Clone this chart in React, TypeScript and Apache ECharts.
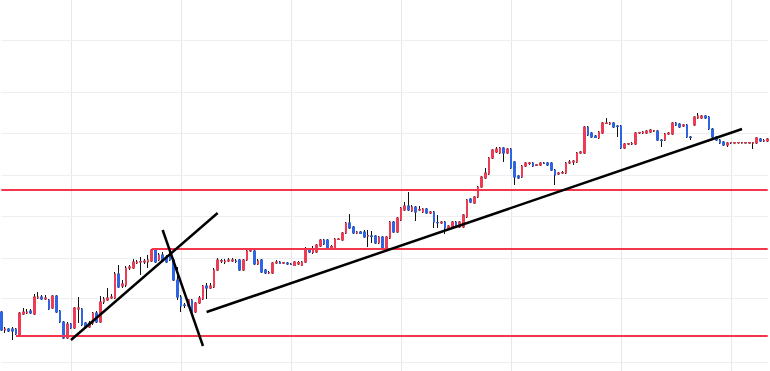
import React, { useEffect, useRef } from "react";
import * as echarts from "echarts";

// OHLC values (price units), one entry per session
const opens = [
  88, 70, 71, 71, 71, 65, 86, 87, 89, 86,
  102, 103, 101, 100, 92, 104, 89, 78, 62, 76,
  72, 91, 91, 77, 73, 77, 87, 78, 98, 100,
  102, 102, 126, 114, 115, 132, 132, 137, 138, 138,
  138, 139, 150, 140, 145, 143, 145, 140, 120, 103,
  95, 94, 100, 88, 97, 101, 114, 112, 113, 130,
  139, 138, 139, 139, 139, 140, 130, 140, 149, 149,
  136, 140, 130, 127, 127, 137, 138, 137, 137, 136,
  134.5, 136, 134.5, 138, 151, 147.5, 148, 154, 160, 160,
  151.5, 152, 160.5, 160, 167, 177, 173, 167, 168, 168,
  164, 164, 164, 157, 163, 152, 162, 178, 168, 180,
  190, 194, 189, 193, 190, 188, 191, 187, 188, 177.5,
  177, 178, 172, 172, 178, 173, 173, 183, 201, 197,
  203, 213, 222, 226, 242, 248, 247, 252, 247, 251,
  238, 224, 223, 234, 236.5, 237, 234.8, 235, 237, 237,
  237, 230, 226, 227, 227, 237, 238, 238, 247, 247,
  273, 267, 264, 262, 267, 276.5, 276, 277, 274, 274,
  252, 256, 256, 256, 267, 267, 267, 268, 269, 269,
  260, 260, 266, 266, 277, 276, 274, 275, 263, 275,
  282, 282, 284, 283, 271, 263, 260, 258, 255, 257,
  257, 257.2, 257, 257.1, 257, 257, 257, 261, 259, 259,
];
const closes = [
  70, 71, 69, 69, 66, 87, 88, 88, 87, 103,
  103, 101, 102, 91, 104, 88, 78, 62, 76, 72,
  92, 92, 75, 73, 77, 87, 78, 98, 101, 102,
  103, 126, 113, 116, 132, 133, 138, 138, 138.5, 139,
  140, 150, 138, 145, 139, 138, 140, 120, 103, 94,
  94.5, 100, 88, 97, 102, 114, 112, 114, 130, 140,
  139.3, 139, 140, 140, 138.5, 130, 140, 149, 150, 136,
  139, 128, 127, 127.5, 137, 138, 136.5, 137.2, 136, 135.5,
  138, 137.5, 138, 151, 148, 150.5, 155, 160, 156, 152,
  153.5, 161, 161, 167, 177, 172, 167, 168, 166.5, 163,
  164.3, 163.7, 157, 163, 152, 163, 178, 168, 182, 192,
  194, 190, 193, 188, 190.5, 191, 187, 188, 178, 177.2,
  178, 172, 174, 178, 173, 178, 185, 200, 198, 203,
  213, 223, 227, 242, 250, 251, 252, 247, 251, 232,
  223, 222, 234, 237, 237, 234, 235, 237, 236.5, 235,
  230, 225, 227, 227.5, 237, 238, 239, 247, 248, 273,
  265, 263, 262.5, 268, 277, 277, 277, 273, 273.5, 252,
  256, 256.2, 256.5, 267, 267.5, 268, 269, 270, 269.2, 260,
  259.5, 266, 267, 277, 275, 273, 275, 263, 262.5, 283,
  284, 284, 282, 271, 263, 260, 257, 255, 257, 257.3,
  257.3, 257.4, 257.3, 257.3, 257.3, 257.2, 262, 259, 259.5, 261,
];
const lows = [
  69, 67, 68, 60, 65, 64, 85, 86, 86, 85,
  101, 100, 100, 90, 91, 87, 77, 61, 61, 71,
  71, 77, 74, 71, 72, 75, 77, 77, 96, 99,
  101, 101, 112, 112, 113, 130, 131, 136, 125, 136,
  132, 138, 137, 139, 138, 137, 139, 119, 100, 88,
  92, 93, 87, 87, 96, 100, 101, 111, 112, 129,
  137, 136, 138, 138, 137, 129, 129, 139, 148, 135,
  135, 127, 126, 126, 126, 136, 136, 136, 135, 135,
  134, 135, 134, 137, 147, 146, 147, 153, 155, 151,
  150, 151, 160, 159, 166, 171, 166, 166, 166, 162,
  153, 157, 156, 156, 151, 151, 161, 167, 167, 179,
  189, 189, 188, 179, 189, 187, 186, 186, 172, 172,
  176, 166, 171, 171, 172, 172, 172, 182, 197, 196,
  202, 212, 221, 225, 241, 247, 246, 238, 246, 231,
  215, 221, 222, 233, 235, 233, 234, 234, 236, 234,
  229, 215, 225, 226, 226, 236, 235, 237, 246, 246,
  264, 262, 262, 261, 266, 276, 275, 272, 263, 251,
  251, 255, 255, 255, 266, 266, 266, 267, 268, 259,
  253, 259, 265, 265, 274, 272, 273, 262, 260, 274,
  281, 281, 281, 270, 262, 259, 256, 254, 253, 256,
  256.5, 256.5, 256.5, 256.5, 256.5, 251, 256, 258, 258, 258,
];
const highs = [
  89, 73, 72, 73, 72, 88, 92, 91, 91, 106,
  108, 105, 105, 101, 105, 105, 90, 79, 78, 77,
  93, 103, 92, 78, 79, 88, 89, 104, 103, 112,
  106, 128, 135, 120, 134, 135, 141, 140, 143, 141,
  145, 151, 151, 147, 148, 145, 148, 142, 133, 105,
  97, 101, 101, 98, 104, 115, 117, 117, 132, 142,
  141, 141, 142, 142, 141, 141, 141, 151, 152, 151,
  141, 141, 131, 129, 138, 140, 139, 138, 138, 137,
  139, 139, 139, 153, 152, 154, 156, 161, 161, 161,
  155, 162, 162, 168, 178, 186, 174, 169, 169, 170,
  170, 169, 165, 164, 164, 164, 179, 179, 183, 193,
  198, 208, 195, 194, 194, 192, 192, 189, 189, 185,
  179, 179, 175, 179, 179, 179, 186, 201, 202, 204,
  214, 224, 232, 243, 251, 253, 253, 253, 252, 252,
  239, 225, 235, 238, 238, 238, 236, 238, 238, 238,
  238, 231, 228, 229, 238, 240, 240, 248, 249, 274,
  274, 268, 265, 269, 278, 282, 278, 278, 275, 275,
  257, 257, 258, 268, 268, 269, 270, 271, 270, 270,
  261, 267, 268, 278, 278, 277, 276, 276, 264, 284,
  287, 285, 285, 284, 272, 264, 261, 259, 258, 258,
  258, 258, 258, 258, 258, 258, 263, 262, 261, 262,
];
const categories = opens.map((_, i) => `D${i + 1}`);

// horizontal grid levels (price)
const gridLevels = [360, 308, 267, 225, 184, 142, 102, 38];
// vertical grid: first session index and step
const vGridFirst = 19;
const vGridStep = 30;

// support / resistance levels: price and starting session index
const levelPrices = [210, 151, 64];
const levelStarts = [0, 41, 4];

// trend lines: [session index, price] start and end
const trendStarts = [[19, 60], [44, 170], [56, 88]];
const trendEnds = [[59, 187], [55, 54], [202, 271]];

const UP = "#eb3d54";
const DOWN = "#2f65e4";
const LEVEL = "#f3364c";

export default function App() {
  const ref = useRef<HTMLDivElement>(null);
  useEffect(() => {
    if (!ref.current) return;
    const chart = echarts.init(ref.current, undefined, { renderer: "svg" });
    const last = opens.length - 1;
    const wickData = opens.map((o, i) => [o, closes[i], lows[i], highs[i]]);
    const bodyData = opens.map((o, i) => [
      o,
      closes[i],
      Math.min(o, closes[i]),
      Math.max(o, closes[i]),
    ]);
    const levelLines = levelPrices.map((p, k) => [
      { coord: [levelStarts[k], p], lineStyle: { color: LEVEL, width: 2, type: "solid" } },
      { coord: [last, p] },
    ]);
    const trendLines = trendStarts.map((s, k) => [
      { coord: s, lineStyle: { color: "#000000", width: 2.5, type: "solid" } },
      { coord: trendEnds[k] },
    ]);
    chart.setOption({
      animation: false,
      backgroundColor: "#ffffff",
      grid: { left: 1.3, right: 2.3, top: 0, bottom: 0, containLabel: false },
      xAxis: {
        type: "category",
        data: categories,
        boundaryGap: false,
        axisLine: { show: false },
        axisTick: { show: false },
        axisLabel: { show: false },
        splitLine: {
          show: true,
          interval: (idx: number) => idx >= vGridFirst && (idx - vGridFirst) % vGridStep === 0,
          lineStyle: { color: "#e8e8eb", width: 1 },
        },
      },
      yAxis: {
        type: "value",
        min: 29,
        max: 400,
        axisLine: { show: false },
        axisTick: { show: false },
        axisLabel: { show: false },
        splitLine: { show: false },
      },
      series: [
        {
          type: "candlestick",
          name: "wick",
          data: wickData,
          barWidth: 2.2,
          clip: false,
          z: 2,
          itemStyle: {
            color: "#111111",
            color0: "#111111",
            borderColor: "#111111",
            borderColor0: "#111111",
            borderWidth: 1,
          },
          markLine: {
            silent: true,
            z: 1,
            symbol: ["none", "none"],
            label: { show: false },
            lineStyle: { color: "#efeff1", width: 1, type: "solid" },
            data: gridLevels.map((v) => ({ yAxis: v })),
          },
        },
        {
          type: "candlestick",
          name: "body",
          data: bodyData,
          barWidth: 2.2,
          clip: false,
          z: 3,
          itemStyle: {
            color: UP,
            color0: DOWN,
            borderColor: UP,
            borderColor0: DOWN,
            borderWidth: 1,
          },
          markLine: {
            silent: true,
            z: 5,
            symbol: ["none", "none"],
            label: { show: false },
            data: [...levelLines, ...trendLines],
          },
        },
      ],
    });
    return () => chart.dispose();
  }, []);
  return (
    <div
      ref={ref}
      style={{ position: "fixed", left: 0, top: 0, width: 770, height: 371, background: "#fff" }}
    />
  );
}
